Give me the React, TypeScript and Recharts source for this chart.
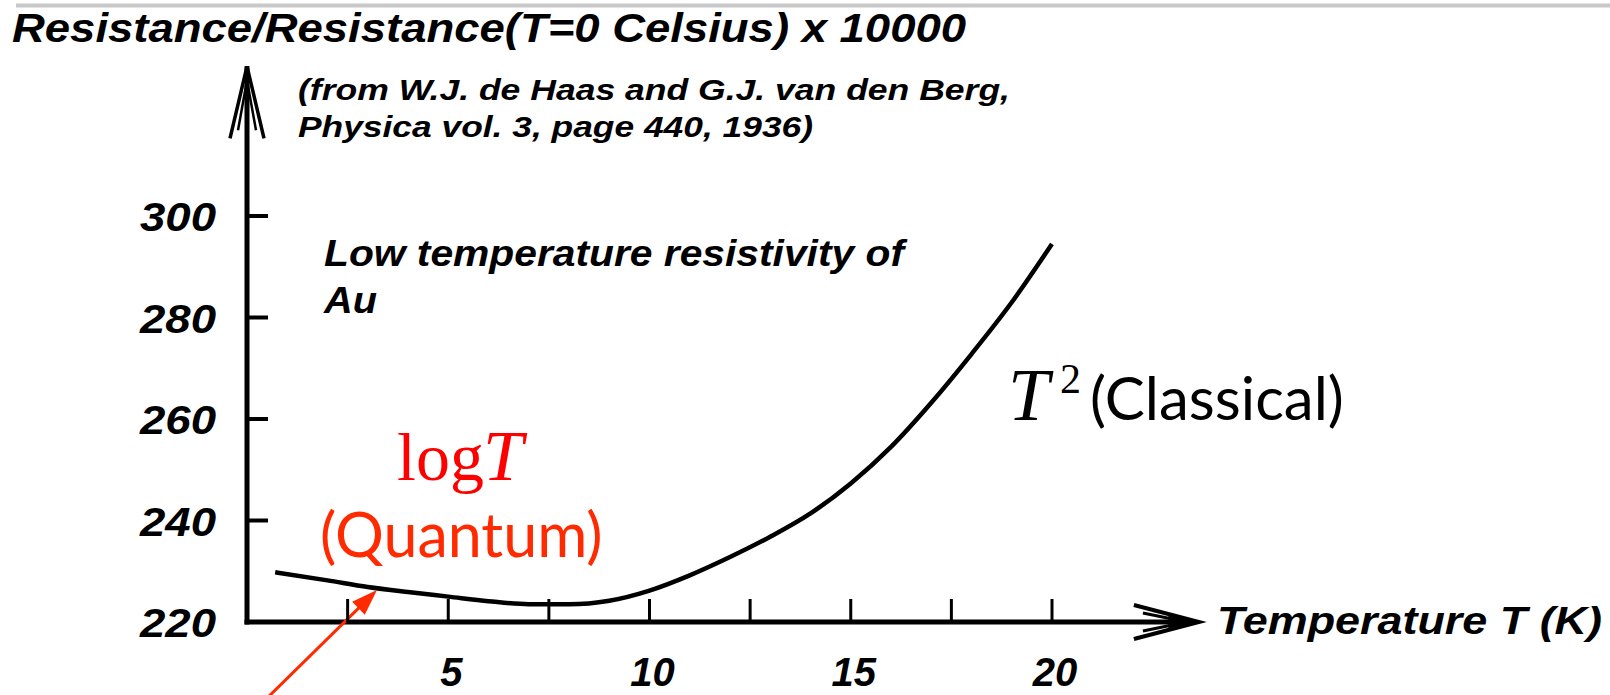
import { LineChart, Line, XAxis, YAxis, ReferenceLine } from 'recharts'

// Au resistivity, de Haas & van den Berg (1936)
const temperatures = [0.7, 2, 3, 4, 5, 6, 7, 8, 9, 10, 11, 12, 13, 14, 15, 16, 17, 18, 19, 20]
const resistance = [
  229.8, 228.2, 226.9, 225.9, 225.0, 224.1, 223.5, 223.5, 224.2, 226.2, 229.2, 232.8, 236.8,
  241.4, 247.3, 254.5, 263.2, 272.8, 283.0, 294.5,
]
const xTicks = [2.5, 5, 7.5, 10, 12.5, 15, 17.5, 20]
const xLabelTicks = [5, 10, 15, 20]
const yTicks = [220, 240, 260, 280, 300]

// where the axes end (arrow tips) and where the red pointer runs, in data units
const xAxisEnd = 23.65
const yAxisEnd = 329.5
const pointerFrom = { x: 0.37, y: 204 }
const pointerTo = { x: 3.23, y: 226.3 }

const data = temperatures.map((t, i) => ({ t, r: resistance[i] }))

const HELV = '"Liberation Sans", Arial, Helvetica, sans-serif'
const SERIF = '"Liberation Serif", "Times New Roman", serif'
const HUMANIST = 'Lato, "Open Sans", sans-serif'

const helvText = {
  fontFamily: HELV,
  fontWeight: 700,
  fontStyle: 'italic' as const,
  fill: '#000',
}

function YTick({ x, y, payload }: { x: number; y: number; payload: { value: number } }) {
  const v = payload.value
  return (
    <g>
      {v > 220 && <line x1={x} x2={x + 21} y1={y} y2={y} stroke="#000" strokeWidth={4} />}
      <text
        x={x - 107}
        y={y + 15}
        fontSize={40}
        textLength={76}
        lengthAdjust="spacingAndGlyphs"
        {...helvText}
      >
        {v}
      </text>
    </g>
  )
}

function XTick({ x, y, payload }: { x: number; y: number; payload: { value: number } }) {
  const v = payload.value
  return (
    <g>
      <line x1={x} x2={x} y1={y} y2={y - 23} stroke="#000" strokeWidth={3} />
      {xLabelTicks.includes(v) && (
        <text x={x + 3} y={y + 64} textAnchor="middle" fontSize={40} {...helvText}>
          {v}
        </text>
      )}
    </g>
  )
}

type Seg = { x1: number; y1: number; x2: number; y2: number }

function YAxisArrow({ x1, y1, x2, y2 }: Seg) {
  return (
    <g stroke="#000" fill="none">
      <line x1={x1} y1={y1 + 2.5} x2={x2} y2={y2} strokeWidth={5} />
      <polyline points={`${x2 - 17},${y2 + 72} ${x2},${y2} ${x2 + 17},${y2 + 72}`} strokeWidth={3.5} />
      <polyline points={`${x2 - 9},${y2 + 64} ${x2},${y2 + 14} ${x2 + 9},${y2 + 64}`} strokeWidth={2.5} />
    </g>
  )
}

function XAxisArrow({ x1, y1, x2, y2 }: Seg) {
  return (
    <g stroke="#000">
      <line x1={x1 - 2.5} y1={y1} x2={x2 - 4} y2={y2} strokeWidth={5} />
      <polyline points={`${x2 - 65},${y2 - 17} ${x2},${y2} ${x2 - 65},${y2 + 17}`} strokeWidth={4} fill="none" />
      <polyline points={`${x2 - 56},${y2 - 9} ${x2 - 12},${y2} ${x2 - 56},${y2 + 9}`} strokeWidth={3} fill="none" />
      <polygon points={`${x2 - 30},${y2 - 7} ${x2},${y2} ${x2 - 30},${y2 + 7}`} fill="#000" strokeWidth={1} />
    </g>
  )
}

function PointerArrow({ x1, y1, x2, y2 }: Seg) {
  const dx = x2 - x1
  const dy = y2 - y1
  const len = Math.hypot(dx, dy)
  const ux = dx / len
  const uy = dy / len
  const bx = x2 - ux * 26
  const by = y2 - uy * 26
  const px = -uy * 9
  const py = ux * 9
  return (
    <g>
      <line x1={x1} y1={y1} x2={bx + ux * 2} y2={by + uy * 2} stroke="#ff2a00" strokeWidth={3} />
      <polygon points={`${x2},${y2} ${bx + px},${by + py} ${bx - px},${by - py}`} fill="#ff2a00" />
    </g>
  )
}

export default function App() {
  return (
    <div
      style={{
        position: 'absolute',
        left: 0,
        top: 0,
        width: 1610,
        height: 695,
        background: '#fff',
        overflow: 'hidden',
      }}
    >
      <LineChart width={1610} height={695} data={data} margin={{ top: 216, right: 558, bottom: 72, left: 0 }}>
        <XAxis
          dataKey="t"
          type="number"
          domain={[0, 20]}
          ticks={xTicks}
          height={1}
          axisLine={false}
          tickLine={false}
          tickSize={0}
          tickMargin={0}
          tick={(p: any) => <XTick {...p} />}
          interval={0}
        />
        <YAxis
          type="number"
          domain={[220, 300]}
          ticks={yTicks}
          width={247}
          axisLine={false}
          tickLine={false}
          tickSize={0}
          tickMargin={0}
          tick={(p: any) => <YTick {...p} />}
          interval={0}
          allowDataOverflow
        />
        <ReferenceLine
          segment={[
            { x: 0, y: 220 },
            { x: 0, y: yAxisEnd },
          ]}
          ifOverflow="visible"
          shape={(p: any) => <YAxisArrow {...p} />}
        />
        <ReferenceLine
          segment={[
            { x: 0, y: 220 },
            { x: xAxisEnd, y: 220 },
          ]}
          ifOverflow="visible"
          shape={(p: any) => <XAxisArrow {...p} />}
        />
        <Line
          type="monotone"
          dataKey="r"
          stroke="#000"
          strokeWidth={4.5}
          dot={false}
          activeDot={false}
          isAnimationActive={false}
        />
        <ReferenceLine
          segment={[pointerFrom, pointerTo]}
          ifOverflow="visible"
          shape={(p: any) => <PointerArrow {...p} />}
        />
      </LineChart>

      {/* annotations */}
      <svg
        width={1610}
        height={695}
        style={{ position: 'absolute', left: 0, top: 0, pointerEvents: 'none' }}
      >
        <rect x={16} y={3.5} width={1594} height={4} fill="#c8c8c8" />
        <text x={12} y={42} fontSize={40} textLength={954} lengthAdjust="spacingAndGlyphs" {...helvText}>
          Resistance/Resistance(T=0 Celsius) x 10000
        </text>
        <text x={298} y={100} fontSize={30} textLength={712} lengthAdjust="spacingAndGlyphs" {...helvText}>
          (from W.J. de Haas and G.J. van den Berg,
        </text>
        <text x={298} y={137} fontSize={30} textLength={515} lengthAdjust="spacingAndGlyphs" {...helvText}>
          Physica vol. 3, page 440, 1936)
        </text>
        <text x={324} y={266} fontSize={36} textLength={580} lengthAdjust="spacingAndGlyphs" {...helvText}>
          Low temperature resistivity of
        </text>
        <text x={324} y={313} fontSize={36} textLength={53} lengthAdjust="spacingAndGlyphs" {...helvText}>
          Au
        </text>
        <text x={1217} y={634} fontSize={38} textLength={385} lengthAdjust="spacingAndGlyphs" {...helvText}>
          Temperature T (K)
        </text>

        <text x={397} y={480} fontFamily={SERIF} fontSize={68} fill="#ff0000">
          log
        </text>
        <text x={483} y={480} fontFamily={SERIF} fontSize={72} fontStyle="italic" fill="#ff0000">
          T
        </text>
        <text x={320} y={557} fontFamily={HUMANIST} fontSize={61} fill="#ff2a00">
          (Quantum)
        </text>

        <text x={1008} y={420} fontFamily={SERIF} fontSize={74} fontStyle="italic" fill="#000">
          T
        </text>
        <text x={1060} y={393} fontFamily={SERIF} fontSize={42} fill="#000">
          2
        </text>
        <text x={1090} y={420} fontFamily={HUMANIST} fontSize={60} fill="#000">
          (Classical)
        </text>
      </svg>
    </div>
  )
}
